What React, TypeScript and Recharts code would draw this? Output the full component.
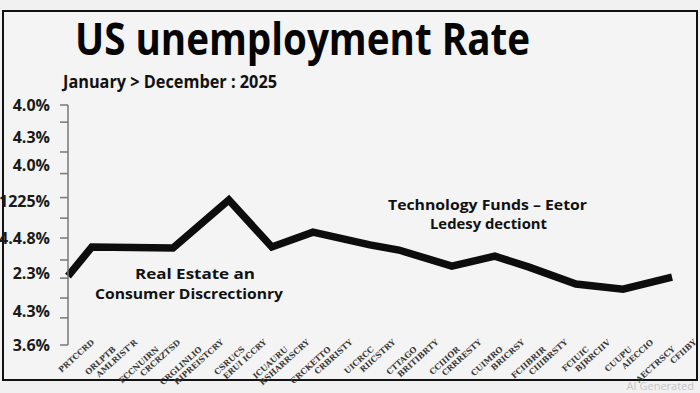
import React from "react";
import { LineChart, Line, XAxis, YAxis } from "recharts";

// garbled month-ish labels along the bottom
const monthLabels = [
  "PRTCCRD", "ORLPTB", "AMLRIST'R", "FCCNUIRN", "CRCRZTSD", "CRGLINLIO", "RIPREISTCRY",
  "CSRUCS", "ERUI ICCRY", "ICUAURU", "RSHARRSCRY", "CRCKETTO", "CRBRISTY", "UICRCC",
  "RIICSTRY", "CTTAGO", "BRITIBRTY", "CCIIIOR", "CRRRESTY", "CUIMRO", "BRICRSY",
  "FCIIBRIR", "CIIIBRSTY", "FCIUIC", "BJRRCIIV", "CUUPU", "AIECCIO", "AECTRSCY", "CFIIBY",
];
const xTicks = monthLabels.map((_, i) => i);

// line points (x in label slots, y in axis units)
const rateX = [-1.25, -0.14, 3.63, 6.23, 8.23, 10.14, 12.79, 14.14, 16.6, 18.6, 20.19, 22.37, 24.56, 26.84];
const rateY = [2.01, 2.86, 2.83, 4.23, 2.86, 3.29, 2.92, 2.77, 2.3, 2.59, 2.27, 1.78, 1.63, 1.98];

const yTickLabels = ["4.0%", "4.3%", "4.0%", "1225%", "4.4.8%", "2.3%", "4.3%", "3.6%"];
const yTickLabelValues = [7, 6.07, 5.25, 4.2, 3.12, 2.1, 0.99, 0];
const yMarkValues = [7, 6.5, 5.63, 5.0, 4.3, 3.7, 3.12, 2.48, 1.95, 1.37, 0.79, 0];

const data = rateX.map((x, i) => ({ x, rate: rateY[i] }));
const yTicks = Array.from(new Set([...yTickLabelValues, ...yMarkValues])).sort((a, b) => a - b);

const FONT = "'Open Sans', 'Noto Sans', sans-serif";

const YTick = ({ x, y, payload }: any) => {
  const idx = yTickLabelValues.indexOf(payload.value);
  const isMark = yMarkValues.includes(payload.value);
  return (
    <g>
      {isMark && <line x1={x - 8} x2={x} y1={y} y2={y} stroke="#777" strokeWidth={1.5} />}
      {idx >= 0 && (
        <text x={x - 18} y={y} dy={6} textAnchor="end" fontFamily={FONT} fontWeight={700} fontSize={16} fill="#1a1a1a">
          {yTickLabels[idx]}
        </text>
      )}
    </g>
  );
};

const XTick = ({ x, y, payload }: any) => {
  const i = payload.value;
  const ty = y + (i % 2 ? 5 : -2);
  return (
    <text
      x={x}
      y={ty}
      transform={`rotate(-42 ${x} ${ty})`}
      textAnchor="end"
      fontFamily="'DejaVu Serif', serif"
      fontWeight={700}
      fontSize={8}
      fill="#3a3a3a"
    >
      {monthLabels[i]}
    </text>
  );
};

export default function App() {
  return (
    <div style={{ position: "absolute", left: 0, top: 0, width: 700, height: 393, background: "#f1f1f1", overflow: "hidden" }}>
      <div
        style={{
          position: "absolute",
          left: 2,
          top: 10,
          width: 692,
          height: 367,
          border: "2px solid #111",
          background: "#f4f4f4",
        }}
      />
      <div style={{ position: "absolute", left: 0, top: 0 }}>
        <LineChart width={700} height={393} data={data} margin={{ top: 105, right: 3, bottom: 8, left: 8 }}>
          <XAxis
            type="number"
            dataKey="x"
            domain={[-1.25, 28]}
            ticks={xTicks}
            interval={0}
            axisLine={false}
            tickLine={false}
            tickSize={0}
            tickMargin={0}
            height={40}
            tick={<XTick />}
          />
          <YAxis
            type="number"
            domain={[0, 7]}
            ticks={yTicks}
            interval={0}
            width={60}
            tickLine={false}
            tickSize={0}
            tickMargin={0}
            axisLine={{ stroke: "#777", strokeWidth: 1.5 }}
            tick={<YTick />}
          />
          <Line
            type="linear"
            dataKey="rate"
            stroke="#0d0d0d"
            strokeWidth={7.5}
            dot={false}
            isAnimationActive={false}
          />
        </LineChart>
      </div>
      <svg width={700} height={393} style={{ position: "absolute", left: 0, top: 0, pointerEvents: "none" }}>
        <text x={75} y={55} fontFamily={FONT} fontWeight={700} fontSize={44} fill="#050505" textLength={455} lengthAdjust="spacingAndGlyphs">
          US unemployment Rate
        </text>
        <text x={63} y={88} fontFamily={FONT} fontWeight={700} fontSize={17} fill="#111" textLength={214} lengthAdjust="spacingAndGlyphs">
          January  &gt; December : 2025
        </text>
        <text x={135} y={279} fontFamily={FONT} fontWeight={700} fontSize={15} fill="#111" textLength={120} lengthAdjust="spacingAndGlyphs">
          Real Estate an
        </text>
        <text x={95} y={299} fontFamily={FONT} fontWeight={700} fontSize={15} fill="#111" textLength={188} lengthAdjust="spacingAndGlyphs">
          Consumer Discrectionry
        </text>
        <text x={388} y={210} fontFamily={FONT} fontWeight={700} fontSize={15} fill="#111" textLength={199} lengthAdjust="spacingAndGlyphs">
          Technology Funds – Eetor
        </text>
        <text x={430} y={229} fontFamily={FONT} fontWeight={700} fontSize={15} fill="#111" textLength={117} lengthAdjust="spacingAndGlyphs">
          Ledesy dectiont
        </text>
        <text x={694} y={390} textAnchor="end" fontFamily={FONT} fontSize={11} fill="#c4c4c4">
          AI Generated
        </text>
      </svg>
    </div>
  );
}
